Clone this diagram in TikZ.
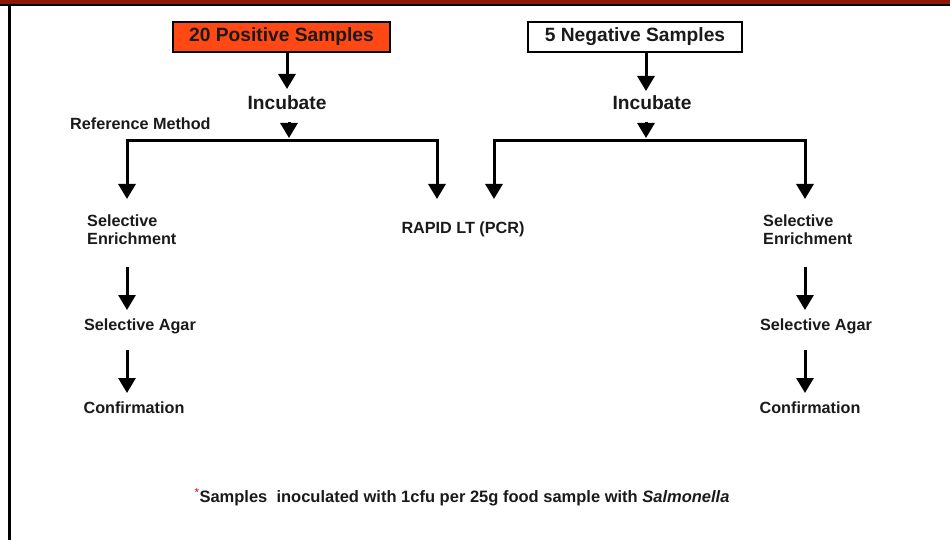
\documentclass[tikz,border=0pt]{standalone}
\usepackage{fontspec}
\setmainfont{Liberation Sans}
\usetikzlibrary{arrows.meta}
\definecolor{bandred}{HTML}{8E1606}
\definecolor{posfill}{HTML}{FF4814}
\definecolor{txt}{HTML}{1A1A1A}
\begin{document}
\begin{tikzpicture}[x=1pt,y=-1pt,
  bigtxt/.style={font=\fontsize{19.2}{22}\selectfont\bfseries,text=txt,inner sep=0pt},
  smalltxt/.style={font=\fontsize{16.2}{18}\selectfont\bfseries,text=txt,inner sep=0pt},
  samplebox/.style={draw=black,line width=1.2pt,minimum width=217pt,minimum height=30pt,inner sep=0pt,font=\fontsize{19.2}{22}\selectfont\bfseries,text=txt},
  flow/.style={line width=3pt,-{Triangle[width=17pt,length=15pt]}},
  bar/.style={line width=3pt}]
\useasboundingbox (0,0) rectangle (950,540);
\fill[bandred] (0,0) rectangle (950,4.5);
\fill[black] (0,4.5) rectangle (950,6.5);
\fill[black] (8,6) rectangle (10.5,540);
% top boxes
\node[samplebox,fill=posfill] (pos) at (281.5,37) {20 Positive Samples};
\node[samplebox,fill=white,minimum width=214pt] (neg) at (635,37) {5 Negative Samples};
\node[bigtxt] (inc1) at (287,103) {Incubate};
\node[bigtxt] (inc2) at (652,103) {Incubate};
\node[smalltxt,anchor=west] (ref) at (70,124) {Reference Method};
% coordinates
\coordinate (p1) at (287,89);
\coordinate (n1) at (646,91);
\coordinate (h1) at (289,122);
\coordinate (h1t) at (289,138);
\coordinate (h2) at (646,122);
\coordinate (h2t) at (646,138);
\coordinate (bl) at (127,141);
\coordinate (br) at (437,141);
\coordinate (cl) at (494,141);
\coordinate (cr) at (805,141);
\coordinate (blt) at (127,199);
\coordinate (brt) at (437,199);
\coordinate (clt) at (494,199);
\coordinate (crt) at (805,199);
% texts
\node[smalltxt,anchor=west,align=left] (se1) at (87,230) {Selective\\Enrichment};
\node[smalltxt,anchor=west,align=left] (se2) at (763,230) {Selective\\Enrichment};
\node[smalltxt] (rapid) at (463,229) {RAPID LT (PCR)};
\node[smalltxt] (sa1) at (140,326) {Selective Agar};
\node[smalltxt] (sa2) at (816,326) {Selective Agar};
\node[smalltxt] (conf1) at (134,408) {Confirmation};
\node[smalltxt] (conf2) at (810,408) {Confirmation};
\node[font=\fontsize{16.5}{18}\selectfont\bfseries,text=txt,inner sep=0pt] (note) at (462,497)
  {\textcolor{red!80!black}{\textsuperscript{\mdseries *}}Samples\ \ inoculated with 1cfu per 25g food sample with \textit{Salmonella}};
% arrows
\draw[flow] (pos.south -| p1) -- (p1);
\draw[flow] (neg.south -| n1) -- (n1);
\draw[flow] (h1) -- (h1t);
\draw[flow] (h2) -- (h2t);
\draw[bar] ([xshift=-1.5pt]bl) -- ([xshift=1.5pt]br);
\draw[bar] ([xshift=-1.5pt]cl) -- ([xshift=1.5pt]cr);
\draw[flow] (bl) -- (blt);
\draw[flow] (br) -- (brt);
\draw[flow] (cl) -- (clt);
\draw[flow] (cr) -- (crt);
\draw[flow] (127,267) -- (127,310);
\draw[flow] (127,350) -- (127,393);
\draw[flow] (805,267) -- (805,310);
\draw[flow] (805,350) -- (805,393);
\end{tikzpicture}
\end{document}
